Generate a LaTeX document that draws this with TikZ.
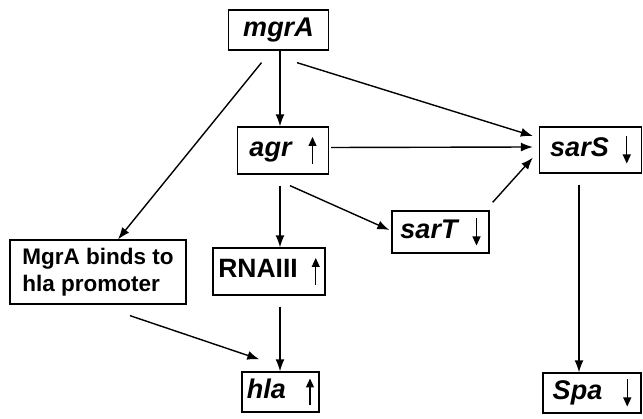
\documentclass[tikz,border=0pt]{standalone}
\usepackage{fontspec}
\setmainfont{Liberation Sans}
\usetikzlibrary{arrows.meta,calc}

% small up/down arrows written inside the gene boxes
\newcommand\arrup{\tikz[baseline=0pt]\draw[line width=1.1pt,-{Triangle[length=9pt,width=8pt]}] (0pt,-7pt)--(0pt,20pt);}
\newcommand\arrdn{\tikz[baseline=0pt]\draw[line width=1.1pt,-{Triangle[length=9pt,width=8pt]}] (0pt,20pt)--(0pt,-7pt);}

\tikzset{
  gene/.style={draw, line width=1.3pt, inner sep=0pt, align=center,
    font=\fontsize{27}{30}\selectfont\bfseries\itshape},
  note/.style={draw, line width=1.3pt, inner sep=0pt, align=left,
    font=\fontsize{22.5}{27}\selectfont\bfseries},
  link/.style={line width=1.4pt, -{Latex[length=12pt,width=9pt]}}
}

\begin{document}
\begin{tikzpicture}[x=1pt,y=-1pt]
\useasboundingbox (0,0) rectangle (643,419);

\node[gene, minimum width=100pt, minimum height=40pt] (mgrA) at (278.5,30) {mgrA};
\node[gene, minimum width=91pt, minimum height=47pt] (agr) at (283,150.5) {agr\hspace{17pt}\arrup};
\node[gene, minimum width=102pt, minimum height=46pt] (sarS) at (590.5,150) {sarS\hspace{14pt}\arrdn};
\node[gene, minimum width=97pt, minimum height=42pt] (sarT) at (440.5,232) {sarT\hspace{15pt}\arrdn};
\node[note, minimum width=176pt, minimum height=64pt] (binds) at (98,272) {MgrA binds to\\hla promoter};
\node[gene, minimum width=112pt, minimum height=47pt, font=\fontsize{26.5}{30}\selectfont\bfseries] (rna) at (269,271.5) {RNAIII\hspace{14pt}\arrup};
\node[gene, minimum width=77pt, minimum height=40pt] (hla) at (280.5,392) {hla\hspace{20pt}\arrup};
\node[gene, minimum width=98pt, minimum height=40pt] (spa) at (592,393) {Spa\hspace{21pt}\arrdn};

% start points of the vertical links
\coordinate (m0) at ($(mgrA.south)+(1.5,0)$);
\coordinate (a0) at ($(agr.south)+(-3,11)$);
\coordinate (r0) at ($(rna.south)+(11,11)$);
\coordinate (s0) at ($(sarS.south)+(-11.5,11)$);

% regulatory connections
\draw[link] (m0) -- (m0 |- agr.north);
\draw[link] ($(mgrA.south)+(-17,12)$) -- ($(binds.north)+(20,0)$);
\draw[link] ($(mgrA.south)+(18.5,12)$) -- ($(sarS.west)+(-6,-14)$);
\draw[link] ($(agr.east)+(2,-3)$) -- ($(sarS.west)+(-6,-3)$);
\draw[link] ($(agr.south)+(7,11)$) -- ($(sarT.west)+(-2,-2)$);
\draw[link] ($(sarT.north east)+(3,-8)$) -- ($(sarS.south west)+(-6,-16)$);
\draw[link] (a0) -- (a0 |- rna.north);
\draw[link] ($(binds.south)+(32,11)$) -- ($(hla.north west)+(18,-12)$);
\draw[link] (r0) -- (r0 |- hla.north);
\draw[link] (s0) -- (s0 |- spa.north);
\end{tikzpicture}
\end{document}
